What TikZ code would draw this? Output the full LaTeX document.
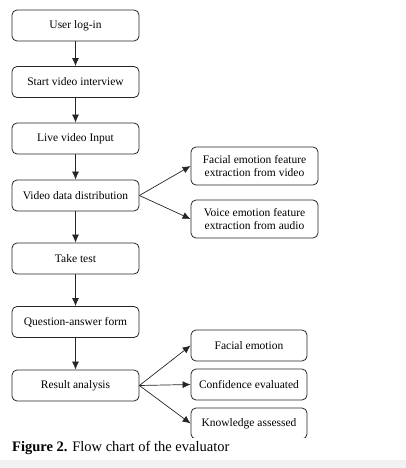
\documentclass[tikz,border=0pt]{standalone}
\usepackage{fontspec}
\setmainfont{Liberation Serif}
\usetikzlibrary{arrows.meta}
\definecolor{bandgray}{HTML}{F2F2F2}
\tikzset{
  flowbox/.style={draw=black!85, line width=0.8pt, rounded corners=5pt, align=center,
    inner sep=1pt, font=\fontsize{11.5}{13}\selectfont},
  leftbox/.style={flowbox, minimum width=127pt, minimum height=31pt},
  rightbox/.style={flowbox, minimum width=127pt, minimum height=38pt},
  resbox/.style={flowbox, minimum width=116pt, minimum height=31pt},
  flowarrow/.style={draw=black!85, line width=0.7pt, -{Latex[length=8pt,width=7pt]}},
}
\begin{document}
\begin{tikzpicture}[x=1pt,y=-1pt]
\useasboundingbox (0,0) rectangle (406,468);
\fill[bandgray] (0,460) rectangle (406,468);

\node[leftbox] (login) at (75.5,25.5) {User log-in};
\node[leftbox] (start) at (75.5,82) {Start video interview};
\node[leftbox] (live) at (75.5,138.5) {Live video Input};
\node[leftbox] (dist) at (75.5,195.5) {Video data distribution};
\node[leftbox] (test) at (75.5,258.5) {Take test};
\node[leftbox] (qa) at (75.5,322) {Question-answer form};
\node[leftbox] (result) at (75.5,385.5) {Result analysis};

\node[rightbox] (facefeat) at (254.5,166) {Facial emotion feature\\extraction from video};
\node[rightbox] (voicefeat) at (254.5,219) {Voice emotion feature\\extraction from audio};

\node[resbox] (face) at (249,345.5) {Facial emotion};
\node[resbox] (conf) at (249,384.5) {Confidence evaluated};
\begin{scope}
\clip (0,0) rectangle (406,437.5);
\node[resbox] (know) at (249,423.5) {Knowledge assessed};
\end{scope}

\draw[flowarrow] (login) -- (start);
\draw[flowarrow] (start) -- (live);
\draw[flowarrow] (live) -- (dist);
\draw[flowarrow] (dist) -- (test);
\draw[flowarrow] (test) -- (qa);
\draw[flowarrow] (qa) -- (result);

\draw[flowarrow] (dist.east) -- (facefeat.west);
\draw[flowarrow] (dist.east) -- (voicefeat.west);
\draw[flowarrow] (result.east) -- (face.west);
\draw[flowarrow] (result.east) -- (conf.west);
\draw[flowarrow] (result.east) -- (know.west);

\node[anchor=base west, inner sep=0pt, font=\fontsize{14.5}{16}\selectfont] (caption) at (12,451)
  {\textbf{Figure 2.} Flow chart of the evaluator};
\end{tikzpicture}
\end{document}
